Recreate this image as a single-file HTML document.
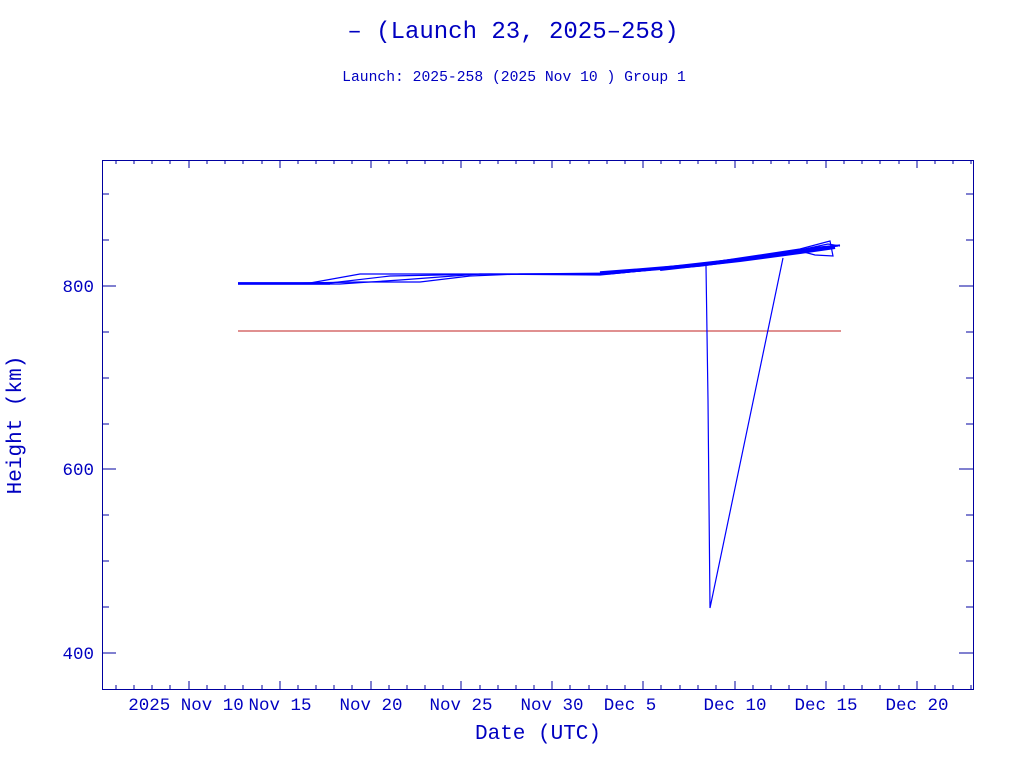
<!DOCTYPE html>
<html><head><style>
body{margin:0;background:#fff;}
svg{display:block;font-family:"Liberation Mono","DejaVu Sans Mono",monospace;}
</style></head><body>
<svg width="1024" height="768" viewBox="0 0 1024 768" xmlns="http://www.w3.org/2000/svg">
<rect width="1024" height="768" fill="#fff"/>
<text x="513" y="38" text-anchor="middle" font-size="24" fill="#0000c0">– (Launch 23, 2025–258)</text>
<text x="514" y="81" text-anchor="middle" font-size="14.7" fill="#0000c0">Launch: 2025-258  (2025 Nov 10 )  Group 1</text>
<g stroke="#0000a0" stroke-width="1" fill="none">
<rect x="102.5" y="160.5" width="871" height="529"/>
<path d="M189 689v-8M280 689v-8M371 689v-8M461 689v-8M552 689v-8M643 689v-8M735 689v-8M826 689v-8M917 689v-8
M189 160v8M280 160v8M371 160v8M461 160v8M552 160v8M643 160v8M735 160v8M826 160v8M917 160v8"/>
<path id="mn" d="M116 689v-4M134 689v-4M152 689v-4M170 689v-4M207 689v-4M225 689v-4M243 689v-4M262 689v-4M298 689v-4M316 689v-4M334 689v-4M352 689v-4M389 689v-4M407 689v-4M425 689v-4M443 689v-4M480 689v-4M498 689v-4M516 689v-4M534 689v-4M570 689v-4M589 689v-4M607 689v-4M625 689v-4M661 689v-4M680 689v-4M698 689v-4M716 689v-4M753 689v-4M771 689v-4M789 689v-4M807 689v-4M844 689v-4M862 689v-4M880 689v-4M899 689v-4M935 689v-4M953 689v-4M971 689v-4"/>
<use href="#mn" transform="translate(0,849) scale(1,-1)"/>
<path d="M102 286h14M102 469h14M102 653h14M973 286h-14M973 469h-14M973 653h-14
M102 194h7M102 240h7M102 332h7M102 378h7M102 424h7M102 515h7M102 561h7M102 607h7
M973 194h-7M973 240h-7M973 332h-7M973 378h-7M973 424h-7M973 515h-7M973 561h-7M973 607h-7"/>
</g>
<g fill="#0000c0" font-size="17.5" text-anchor="end">
<text x="94" y="292">800</text><text x="94" y="475">600</text><text x="94" y="659">400</text>
</g>
<g fill="#0000c0" font-size="17.5" text-anchor="middle">
<text x="186" y="710">2025 Nov 10</text><text x="280" y="710">Nov 15</text><text x="371" y="710">Nov 20</text>
<text x="461" y="710">Nov 25</text><text x="552" y="710">Nov 30</text><text x="630" y="710">Dec  5</text>
<text x="735" y="710">Dec 10</text><text x="826" y="710">Dec 15</text><text x="917" y="710">Dec 20</text>
</g>
<text x="538" y="739" text-anchor="middle" font-size="21" fill="#0000c0">Date (UTC)</text>
<text transform="translate(21,425) rotate(-90)" text-anchor="middle" font-size="21" fill="#0000c0">Height (km)</text>
<line x1="238" y1="331" x2="841" y2="331" stroke="#c02020" stroke-width="1"/>
<g stroke="#0000ff" stroke-width="1.2" fill="none">
<path d="M238 283L310 283L360 274L480 274L600 274L640 271L690 266L760 256L800 250L828 244L840 246"/>
<path d="M238 284L340 284L400 280L480 274L600 275L650 270L700 264L780 253L820 247L840 245"/>
<path d="M238 283L300 283L360 282L420 282L470 276L520 274L620 273L680 267L740 258L800 249L830 241L833 256L815 255L800 251"/>
<path d="M238 283L330 283L390 276L440 275L490 274L610 274L670 268L720 261L790 252L838 246"/>
<path d="M238 283.5L330 283.5" stroke-width="2.5"/>
<path d="M600 273L640 270L700 265L760 257L820 248" stroke-width="3.5"/>
<path d="M660 269L740 260L800 252L835 247" stroke-width="4"/>
<path d="M706 266L708 400L710 608L783 258"/>
</g>
</svg>
</body></html>
